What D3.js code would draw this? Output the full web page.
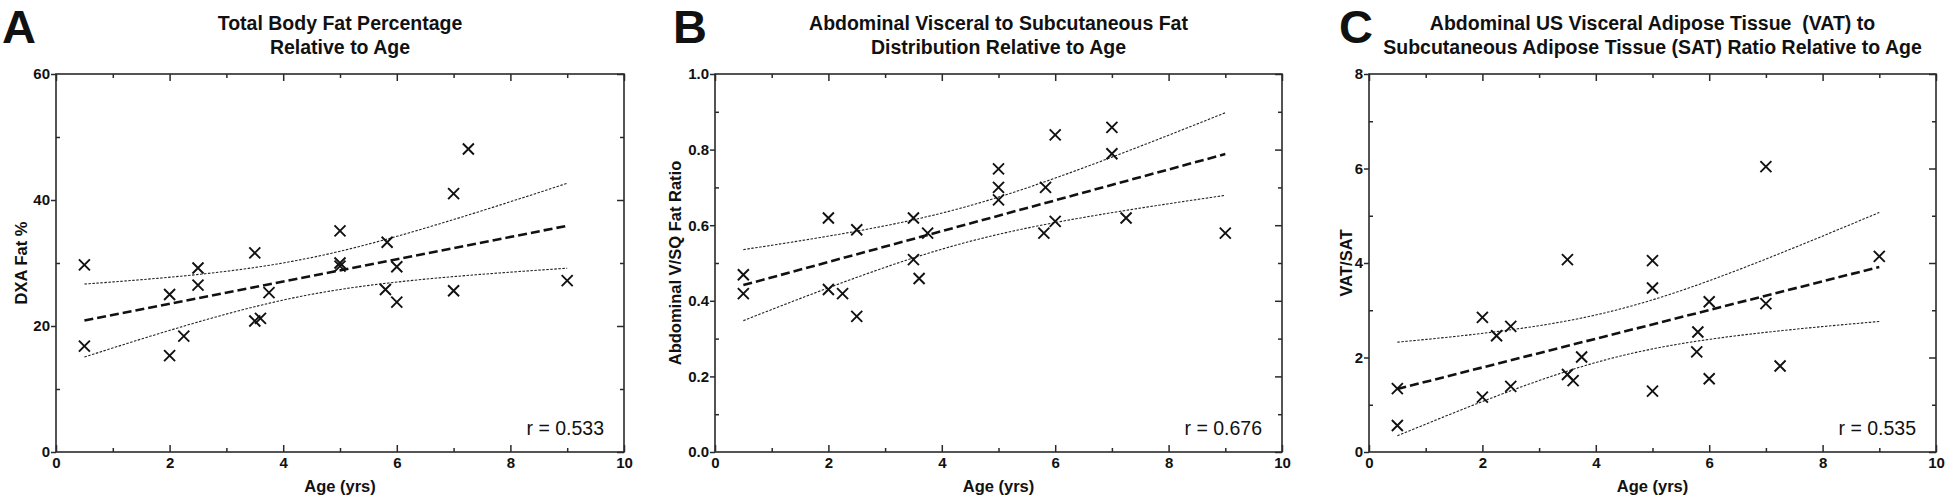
<!DOCTYPE html>
<html>
<head>
<meta charset="utf-8">
<script src="https://cdn.jsdelivr.net/npm/d3@7"></script>
<style>
  html, body { margin: 0; padding: 0; background: #fff; }
  svg text { font-family: "Liberation Sans", Arial, Helvetica, sans-serif; fill: #111; }
</style>
</head>
<body>
<svg id="chart" width="1946" height="501"></svg>
<script>
// ---------------- DATA ----------------
const xTickValues = [0, 2, 4, 6, 8, 10];
const xTickLabels = ["0", "2", "4", "6", "8", "10"];
const xMinorValues = [1, 3, 5, 7, 9];

// Panel A: Total body fat %
const ageA = [0.5, 0.5, 2, 2, 2.25, 2.5, 2.5, 3.5, 3.5, 3.6, 3.75, 5, 5, 5, 5.83, 5.8, 6, 6, 7, 7, 7.26, 9];
const fatA = [29.7, 16.8, 25.0, 15.3, 18.4, 29.2, 26.5, 31.6, 20.8, 21.2, 25.3, 35.1, 30.0, 29.5, 33.3, 25.8, 29.4, 23.8, 41.0, 25.6, 48.1, 27.2];
const yTickValuesA = [0, 20, 40, 60];
const yTickLabelsA = ["0", "20", "40", "60"];
const yMinorValuesA = [10, 30, 50];

// Panel B: Abdominal V/SQ fat ratio
const ageB = [0.5, 0.5, 2, 2, 2.25, 2.5, 2.5, 3.5, 3.5, 3.6, 3.75, 5, 5, 5, 5.83, 5.8, 6, 6, 7, 7, 7.25, 9];
const ratioB = [0.469, 0.419, 0.619, 0.430, 0.419, 0.588, 0.359, 0.619, 0.509, 0.459, 0.579, 0.749, 0.700, 0.667, 0.700, 0.579, 0.839, 0.610, 0.859, 0.789, 0.619, 0.579];
const yTickValuesB = [0, 0.2, 0.4, 0.6, 0.8, 1.0];
const yTickLabelsB = ["0.0", "0.2", "0.4", "0.6", "0.8", "1.0"];
const yMinorValuesB = [0.1, 0.3, 0.5, 0.7, 0.9];

// Panel C: VAT/SAT
const ageC = [0.5, 0.5, 2, 2, 2.25, 2.5, 2.5, 3.5, 3.5, 3.6, 3.75, 5, 5, 5, 5.8, 5.78, 6, 6, 7, 7, 7.25, 9];
const ratioC = [1.34, 0.56, 2.85, 1.16, 2.46, 2.66, 1.39, 4.07, 1.64, 1.51, 2.01, 4.05, 3.47, 1.29, 2.54, 2.12, 3.18, 1.55, 6.04, 3.14, 1.82, 4.14];
const yTickValuesC = [0, 2, 4, 6, 8];
const yTickLabelsC = ["0", "2", "4", "6", "8"];
const yMinorValuesC = [1, 3, 5, 7];

const panelLetters = ["A", "B", "C"];
const titles = [
  ["Total Body Fat Percentage", "Relative to Age"],
  ["Abdominal Visceral to Subcutaneous Fat", "Distribution Relative to Age"],
  ["Abdominal US Visceral Adipose Tissue  (VAT) to", "Subcutaneous Adipose Tissue (SAT) Ratio Relative to Age"]
];
const yTitles = ["DXA Fat %", "Abdominal V/SQ Fat Ratio", "VAT/SAT"];
const xTitle = "Age (yrs)";
const rLabels = ["r = 0.533", "r = 0.676", "r = 0.535"];
const yMaxes = [60, 1.0, 8];

// ---------------- LAYOUT ----------------
const layout = [
  { x0: 56,   x1: 624,  letterX: 2,    yTitleX: 27 },
  { x0: 715,  x1: 1282, letterX: 673,  yTitleX: 681 },
  { x0: 1369, x1: 1936, letterX: 1339, yTitleX: 1352 }
];
const plotTop = 74, plotBottom = 452;

const datasets = [
  { xs: ageA, ys: fatA,   yt: yTickValuesA, yl: yTickLabelsA, ym: yMinorValuesA },
  { xs: ageB, ys: ratioB, yt: yTickValuesB, yl: yTickLabelsB, ym: yMinorValuesB },
  { xs: ageC, ys: ratioC, yt: yTickValuesC, yl: yTickLabelsC, ym: yMinorValuesC }
];

const svg = d3.select("#chart");
const axisColor = "#2a2a2a";

function regression(xs, ys) {
  const n = xs.length;
  const mx = d3.mean(xs), my = d3.mean(ys);
  let sxx = 0, sxy = 0, syy = 0;
  for (let i = 0; i < n; i++) {
    sxx += (xs[i] - mx) ** 2;
    sxy += (xs[i] - mx) * (ys[i] - my);
    syy += (ys[i] - my) ** 2;
  }
  const b = sxy / sxx, a = my - b * mx;
  const sse = syy - b * sxy;
  const s = Math.sqrt(sse / (n - 2));
  return { a, b, s, n, mx, sxx };
}
const tCrit = 2.086; // t(0.975, df = 20)

datasets.forEach((d, i) => {
  const L = layout[i];
  const x = d3.scaleLinear().domain([0, 10]).range([L.x0, L.x1]);
  const y = d3.scaleLinear().domain([0, yMaxes[i]]).range([plotBottom, plotTop]);
  const g = svg.append("g");

  // panel letter
  g.append("text").attr("x", L.letterX).attr("y", 42.5)
    .attr("font-size", 47).attr("font-weight", "bold").text(panelLetters[i]);

  // title
  const cx = (L.x0 + L.x1) / 2;
  const t = g.append("text").attr("text-anchor", "middle")
    .attr("font-size", 19.5).attr("font-weight", "bold")
    .style("white-space", "pre");
  t.append("tspan").attr("x", cx).attr("y", 30).text(titles[i][0]);
  t.append("tspan").attr("x", cx).attr("y", 54).text(titles[i][1]);

  // axes
  const styleAxis = sel => {
    sel.select(".domain").remove();
    sel.selectAll(".tick line").attr("stroke", axisColor).attr("stroke-width", 1.5);
    sel.selectAll(".tick text").attr("font-size", 15).attr("font-weight", "bold")
      .attr("fill", "#111").attr("font-family", "Liberation Sans, Arial, sans-serif");
  };
  // bottom major (inward) with labels
  g.append("g").attr("transform", `translate(0,${plotBottom})`)
    .call(d3.axisBottom(x).tickValues(xTickValues).tickSize(-7).tickPadding(5)
      .tickFormat((v, k) => xTickLabels[k]))
    .call(styleAxis);
  g.append("g").attr("transform", `translate(0,${plotBottom})`)
    .call(d3.axisBottom(x).tickValues(xMinorValues).tickSize(-4).tickFormat(""))
    .call(styleAxis);
  // top (inward)
  g.append("g").attr("transform", `translate(0,${plotTop})`)
    .call(d3.axisTop(x).tickValues(xTickValues).tickSize(-7).tickFormat(""))
    .call(styleAxis);
  g.append("g").attr("transform", `translate(0,${plotTop})`)
    .call(d3.axisTop(x).tickValues(xMinorValues).tickSize(-4).tickFormat(""))
    .call(styleAxis);
  // left: major outward with labels, minor inward
  g.append("g").attr("transform", `translate(${L.x0},0)`)
    .call(d3.axisLeft(y).tickValues(d.yt).tickSize(5).tickPadding(1)
      .tickFormat((v, k) => d.yl[k]))
    .call(styleAxis);
  g.append("g").attr("transform", `translate(${L.x0},0)`)
    .call(d3.axisLeft(y).tickValues(d.ym).tickSize(-4).tickFormat(""))
    .call(styleAxis);
  // right (inward)
  g.append("g").attr("transform", `translate(${L.x1},0)`)
    .call(d3.axisRight(y).tickValues(d.yt).tickSize(-7).tickFormat(""))
    .call(styleAxis);
  g.append("g").attr("transform", `translate(${L.x1},0)`)
    .call(d3.axisRight(y).tickValues(d.ym).tickSize(-4).tickFormat(""))
    .call(styleAxis);

  // frame
  g.append("rect").attr("x", L.x0).attr("y", plotTop)
    .attr("width", L.x1 - L.x0).attr("height", plotBottom - plotTop)
    .attr("fill", "none").attr("stroke", axisColor).attr("stroke-width", 1.6);

  // axis titles
  g.append("text").attr("x", cx).attr("y", 492).attr("text-anchor", "middle")
    .attr("font-size", 16.5).attr("font-weight", "bold").text(xTitle);
  g.append("text").attr("transform", `translate(${L.yTitleX},${(plotTop + plotBottom) / 2}) rotate(-90)`)
    .attr("text-anchor", "middle").attr("font-size", 16.5).attr("font-weight", "bold")
    .text(yTitles[i]);

  // regression + 95% confidence band
  const r = regression(d.xs, d.ys);
  const xmin = d3.min(d.xs), xmax = d3.max(d.xs);
  const grid = d3.range(0, 101).map(k => xmin + (xmax - xmin) * k / 100);
  const fit = v => r.a + r.b * v;
  const half = v => tCrit * r.s * Math.sqrt(1 / r.n + (v - r.mx) ** 2 / r.sxx);
  const line = d3.line().x(p => x(p[0])).y(p => y(p[1]));

  g.append("path").datum(grid.map(v => [v, fit(v) + half(v)]))
    .attr("d", line).attr("fill", "none").attr("stroke", "#222")
    .attr("stroke-width", 1.1).attr("stroke-dasharray", "2.5,1.5");
  g.append("path").datum(grid.map(v => [v, fit(v) - half(v)]))
    .attr("d", line).attr("fill", "none").attr("stroke", "#222")
    .attr("stroke-width", 1.1).attr("stroke-dasharray", "2.5,1.5");
  g.append("path").datum([[xmin, fit(xmin)], [xmax, fit(xmax)]])
    .attr("d", line).attr("fill", "none").attr("stroke", "#111")
    .attr("stroke-width", 2.6).attr("stroke-dasharray", "9,4");

  // markers (X)
  const s = 5.5;
  g.append("g").selectAll("path").data(d.xs.map((v, k) => [v, d.ys[k]])).join("path")
    .attr("d", p => {
      const px = x(p[0]), py = y(p[1]);
      return `M${px - s},${py - s}L${px + s},${py + s}M${px - s},${py + s}L${px + s},${py - s}`;
    })
    .attr("stroke", "#111").attr("stroke-width", 1.9).attr("fill", "none");

  // r label
  g.append("text").attr("x", L.x1 - 20).attr("y", 435).attr("text-anchor", "end")
    .attr("font-size", 19.5).text(rLabels[i]);
});
</script>
</body>
</html>
